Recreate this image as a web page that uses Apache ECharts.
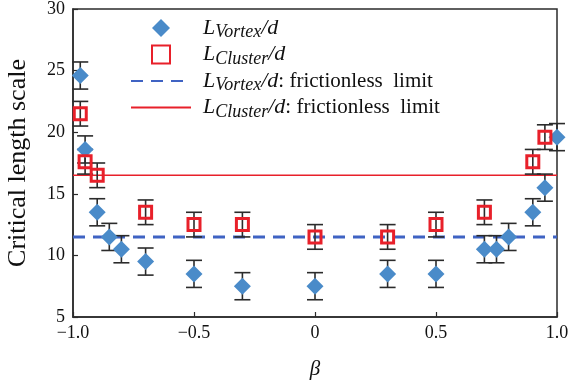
<!DOCTYPE html>
<html>
<head>
<meta charset="utf-8">
<script src="https://cdn.jsdelivr.net/npm/echarts/dist/echarts.min.js"></script>
<style>
html, body { margin: 0; padding: 0; background: #fff; }
#main { width: 568px; height: 380px; }
</style>
</head>
<body>
<div id="main"></div>
<script>
// 涡旋尺度
var vortexBeta = [-0.97, -0.95, -0.9, -0.85, -0.8, -0.7, -0.5, -0.3, 0, 0.3, 0.5, 0.7, 0.75, 0.8, 0.9, 0.95, 1.0];
var vortexL = [24.6, 18.6, 13.5, 11.5, 10.5, 9.5, 8.5, 7.5, 7.5, 8.5, 8.5, 10.5, 10.5, 11.5, 13.5, 15.5, 19.6];
var vortexErr = [1.1, 1.1, 1.1, 1.1, 1.1, 1.1, 1.1, 1.1, 1.1, 1.1, 1.1, 1.1, 1.1, 1.1, 1.1, 1.1, 1.1];
// 团簇尺度
var clusterBeta = [-0.97, -0.95, -0.9, -0.7, -0.5, -0.3, 0, 0.3, 0.5, 0.7, 0.9, 0.95];
var clusterL = [21.5, 17.6, 16.5, 13.5, 12.5, 12.5, 11.5, 11.5, 12.5, 13.5, 17.6, 19.6];
var clusterErr = [1.0, 1.0, 1.0, 1.0, 1.0, 1.0, 1.0, 1.0, 1.0, 1.0, 1.0, 1.0];
// 无摩擦极限
var vortexLimit = 11.5;
var clusterLimit = 16.5;
var xTicks = { '-1': '\u22121.0', '-0.5': '\u22120.5', '0': '0', '0.5': '0.5', '1': '1.0' };

var serif = '"Liberation Serif", "DejaVu Serif", serif';
var clear = 'rgba(255,255,255,0)';

function pts(xs, ys) {
	var out = [];
	for (var i = 0; i < xs.length; i++) out.push([xs[i], ys[i]]);
	return out;
}
function bars(xs, ys, es) {
	var out = [];
	for (var i = 0; i < xs.length; i++) out.push([xs[i], ys[i] - es[i], ys[i] + es[i]]);
	return out;
}
function errRender(params, api) {
	var x = api.value(0);
	var top = api.coord([x, api.value(2)]);
	var bot = api.coord([x, api.value(1)]);
	var w = 8;
	var st = { stroke : '#2b2b2b', lineWidth : 1.6 };
	return {
		type : 'group',
		children : [
			{ type : 'line', shape : { x1 : top[0], y1 : top[1], x2 : bot[0], y2 : bot[1] }, style : st },
			{ type : 'line', shape : { x1 : top[0] - w, y1 : top[1], x2 : top[0] + w, y2 : top[1] }, style : st },
			{ type : 'line', shape : { x1 : bot[0] - w, y1 : bot[1], x2 : bot[0] + w, y2 : bot[1] }, style : st }
		]
	};
}

var labels = {
	vortex : '{i|L}{s|Vortex}{i|/d}',
	cluster : '{i|L}{s|Cluster}{i|/d}',
	vortexLimit : '{i|L}{s|Vortex}{i|/d}{t|: frictionless  limit}',
	clusterLimit : '{i|L}{s|Cluster}{i|/d}{t|: frictionless  limit}'
};

var chart = echarts.init(document.getElementById('main'));
var option = {
	animation : false,
	grid : {
		left : 73,
		right : 11,
		top : 9,
		bottom : 63,
		outerBoundsMode : 'none',
		show : true,
		borderColor : '#2b2b2b',
		borderWidth : 1.5
	},
	legend : {
		orient : 'vertical',
		left : 125,
		top : 12,
		itemWidth : 60,
		itemHeight : 18,
		itemGap : 2,
		symbolKeepAspect : true,
		data : [ {
			name : 'vortex',
			icon : 'path://M0,9 L9,0 L18,9 L9,18 Z'
		}, {
			name : 'cluster',
			icon : 'path://M2,2 L16,2 L16,16 L2,16 Z'
		}, {
			name : 'vortexLimit',
			itemStyle : { color : clear, borderWidth : 0 }
		}, {
			name : 'clusterLimit',
			itemStyle : { color : clear, borderWidth : 0 }
		} ],
		formatter : function(name) {
			return labels[name];
		},
		textStyle : {
			padding : [ 0, 0, 0, 7 ],
			rich : {
				i : { fontFamily : serif, fontStyle : 'italic', fontSize : 22, color : '#111' },
				s : { fontFamily : serif, fontStyle : 'italic', fontSize : 18, color : '#111', padding : [ 9, 0, 0, 0 ] },
				t : { fontFamily : serif, fontSize : 21, color : '#111' }
			}
		}
	},
	xAxis : {
		type : 'value',
		min : -1,
		max : 1,
		interval : 0.5,
		name : '\u03b2',
		nameLocation : 'middle',
		nameGap : 42,
		nameMoveOverlap : false,
		nameTextStyle : { fontFamily : serif, fontStyle : 'italic', fontSize : 21, color : '#111' },
		axisLine : { onZero : false, lineStyle : { color : '#2b2b2b', width : 1.5 } },
		axisTick : { inside : true, length : 5, lineStyle : { color : '#2b2b2b', width : 1.2 } },
		axisLabel : {
			fontFamily : serif,
			fontSize : 18,
			color : '#111',
			margin : 7,
			formatter : function(v) {
				return xTicks[String(v)];
			}
		},
		splitLine : { show : false }
	},
	yAxis : {
		type : 'value',
		min : 5,
		max : 30,
		interval : 5,
		name : 'Critical length scale',
		nameLocation : 'middle',
		nameGap : 42,
		nameMoveOverlap : false,
		nameTextStyle : { fontFamily : serif, fontSize : 26, color : '#111' },
		axisLine : { show : true, onZero : false, lineStyle : { color : '#2b2b2b', width : 1.5 } },
		axisTick : { inside : true, length : 5, lineStyle : { color : '#2b2b2b', width : 1.2 } },
		axisLabel : { fontFamily : serif, fontSize : 18, color : '#111', margin : 8 },
		splitLine : { show : false }
	},
	series : [ {
		name : 'vortexLimit',
		type : 'line',
		symbol : 'none',
		data : [ [ -1, vortexLimit ], [ 1, vortexLimit ] ],
		lineStyle : { color : '#3f63c3', width : 3, type : [ 12, 8 ] },
		itemStyle : { color : '#3f63c3' },
		z : 1
	}, {
		name : 'clusterLimit',
		type : 'line',
		symbol : 'none',
		data : [ [ -1, clusterLimit ], [ 1, clusterLimit ] ],
		lineStyle : { color : '#e8202a', width : 1.6 },
		itemStyle : { color : '#e8202a' },
		z : 1
	}, {
		name : 'vortexErr',
		type : 'custom',
		renderItem : errRender,
		encode : { x : 0, y : [ 1, 2 ] },
		data : bars(vortexBeta, vortexL, vortexErr),
		z : 2
	}, {
		name : 'clusterErr',
		type : 'custom',
		renderItem : errRender,
		encode : { x : 0, y : [ 1, 2 ] },
		data : bars(clusterBeta, clusterL, clusterErr),
		z : 2
	}, {
		name : 'vortex',
		type : 'scatter',
		symbol : 'diamond',
		symbolSize : 17,
		data : pts(vortexBeta, vortexL),
		itemStyle : { color : '#4a8bc9', opacity : 1 },
		z : 3
	}, {
		name : 'cluster',
		type : 'scatter',
		symbol : 'rect',
		symbolSize : 12,
		data : pts(clusterBeta, clusterL),
		itemStyle : { color : clear, borderColor : '#e8202a', borderWidth : 3, opacity : 1 },
		z : 4
	} ]
};
chart.setOption(option);
</script>
</body>
</html>
